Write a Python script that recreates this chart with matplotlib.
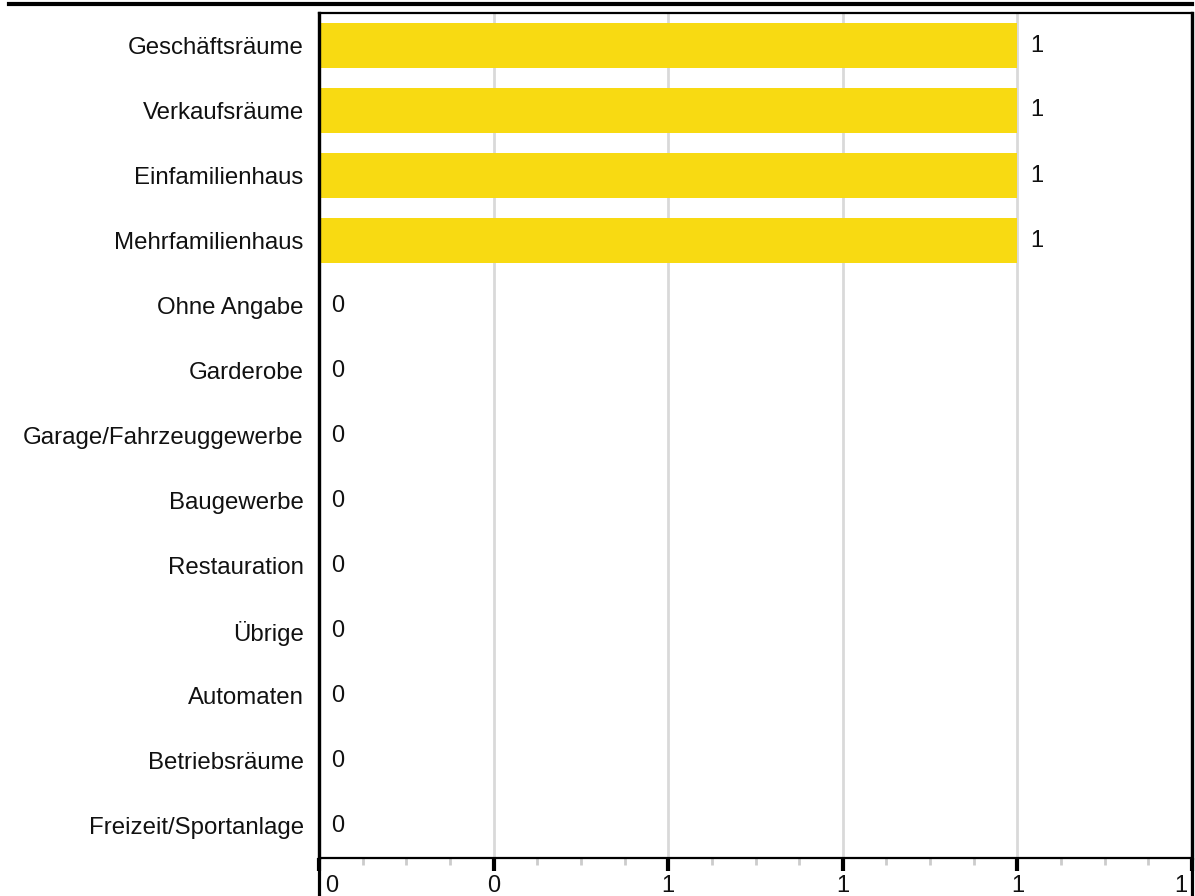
import matplotlib
matplotlib.use('Agg')
import matplotlib.pyplot as plt
from matplotlib.ticker import MultipleLocator, AutoMinorLocator, FuncFormatter
from matplotlib.lines import Line2D
from matplotlib.transforms import ScaledTranslation

plt.rcParams['font.family'] = ['Liberation Sans', 'DejaVu Sans']

categories = ["Geschäftsräume", "Verkaufsräume", "Einfamilienhaus", "Mehrfamilienhaus",
              "Ohne Angabe", "Garderobe", "Garage/Fahrzeuggewerbe", "Baugewerbe",
              "Restauration", "Übrige", "Automaten", "Betriebsräume", "Freizeit/Sportanlage"]
values = [1, 1, 1, 1, 0, 0, 0, 0, 0, 0, 0, 0, 0]
x_max = 1.25
x_step = 0.25

W, H = 1195, 896
fig = plt.figure(figsize=(W / 100, H / 100), dpi=100)
ax = fig.add_axes([319 / W, 1 - 858 / H, (1192 - 319) / W, (858 - 13) / H])

ypos = list(range(len(categories)))
bars = ax.barh(ypos, values, height=0.7, color='#F8DA12', zorder=2)
ax.bar_label(bars, labels=[str(v) for v in values], padding=9, fontsize=17, color='#111111')

ax.set_yticks(ypos)
ax.set_yticklabels(categories, fontsize=17.3, color='#111111')
ax.set_ylim(len(categories) - 0.5, -0.5)
ax.tick_params(axis='y', length=0, pad=11)

ax.set_xlim(0, x_max)
ax.xaxis.set_major_locator(MultipleLocator(x_step))
ax.xaxis.set_minor_locator(AutoMinorLocator(4))
ax.xaxis.set_major_formatter(FuncFormatter(lambda x, p: str(int(x + 0.5 + 1e-9))))
ax.tick_params(axis='x', which='major', length=9, width=3, color='black',
               labelsize=17, pad=3, labelcolor='#111111')
ax.tick_params(axis='x', which='minor', length=5, width=2, color='#cccccc')
ax.grid(axis='x', which='major', color='#d9d9d9', linewidth=2, zorder=0)
ax.set_axisbelow(True)

ax.spines['left'].set_linewidth(2.3)
ax.spines['right'].set_linewidth(2.3)
ax.spines['top'].set_linewidth(1.6)
ax.spines['bottom'].set_linewidth(1.6)

# extended side rules and top rule
fig.add_artist(Line2D([319 / W, 319 / W], [0, 1 - 13 / H], color='black', linewidth=2.3,
                      transform=fig.transFigure))
fig.add_artist(Line2D([1192 / W, 1192 / W], [0, 1 - 13 / H], color='black', linewidth=2.3,
                      transform=fig.transFigure))
fig.add_artist(Line2D([9 / W, 1192 / W], [1 - 4.5 / H, 1 - 4.5 / H], color='black', linewidth=3,
                      transform=fig.transFigure))

# first/last tick labels sit inside the frame
fig.canvas.draw()
for t in ax.xaxis.get_major_ticks():
    xv = t.get_loc()
    if abs(xv) < 1e-9:
        t.label1.set_ha('left')
        t.label1.set_transform(t.label1.get_transform() +
                               ScaledTranslation(6 / 100, 0, fig.dpi_scale_trans))
    elif abs(xv - x_max) < 1e-9:
        t.label1.set_ha('right')
        t.label1.set_transform(t.label1.get_transform() +
                               ScaledTranslation(-5 / 100, 0, fig.dpi_scale_trans))

fig.savefig('out.png', dpi=100)
